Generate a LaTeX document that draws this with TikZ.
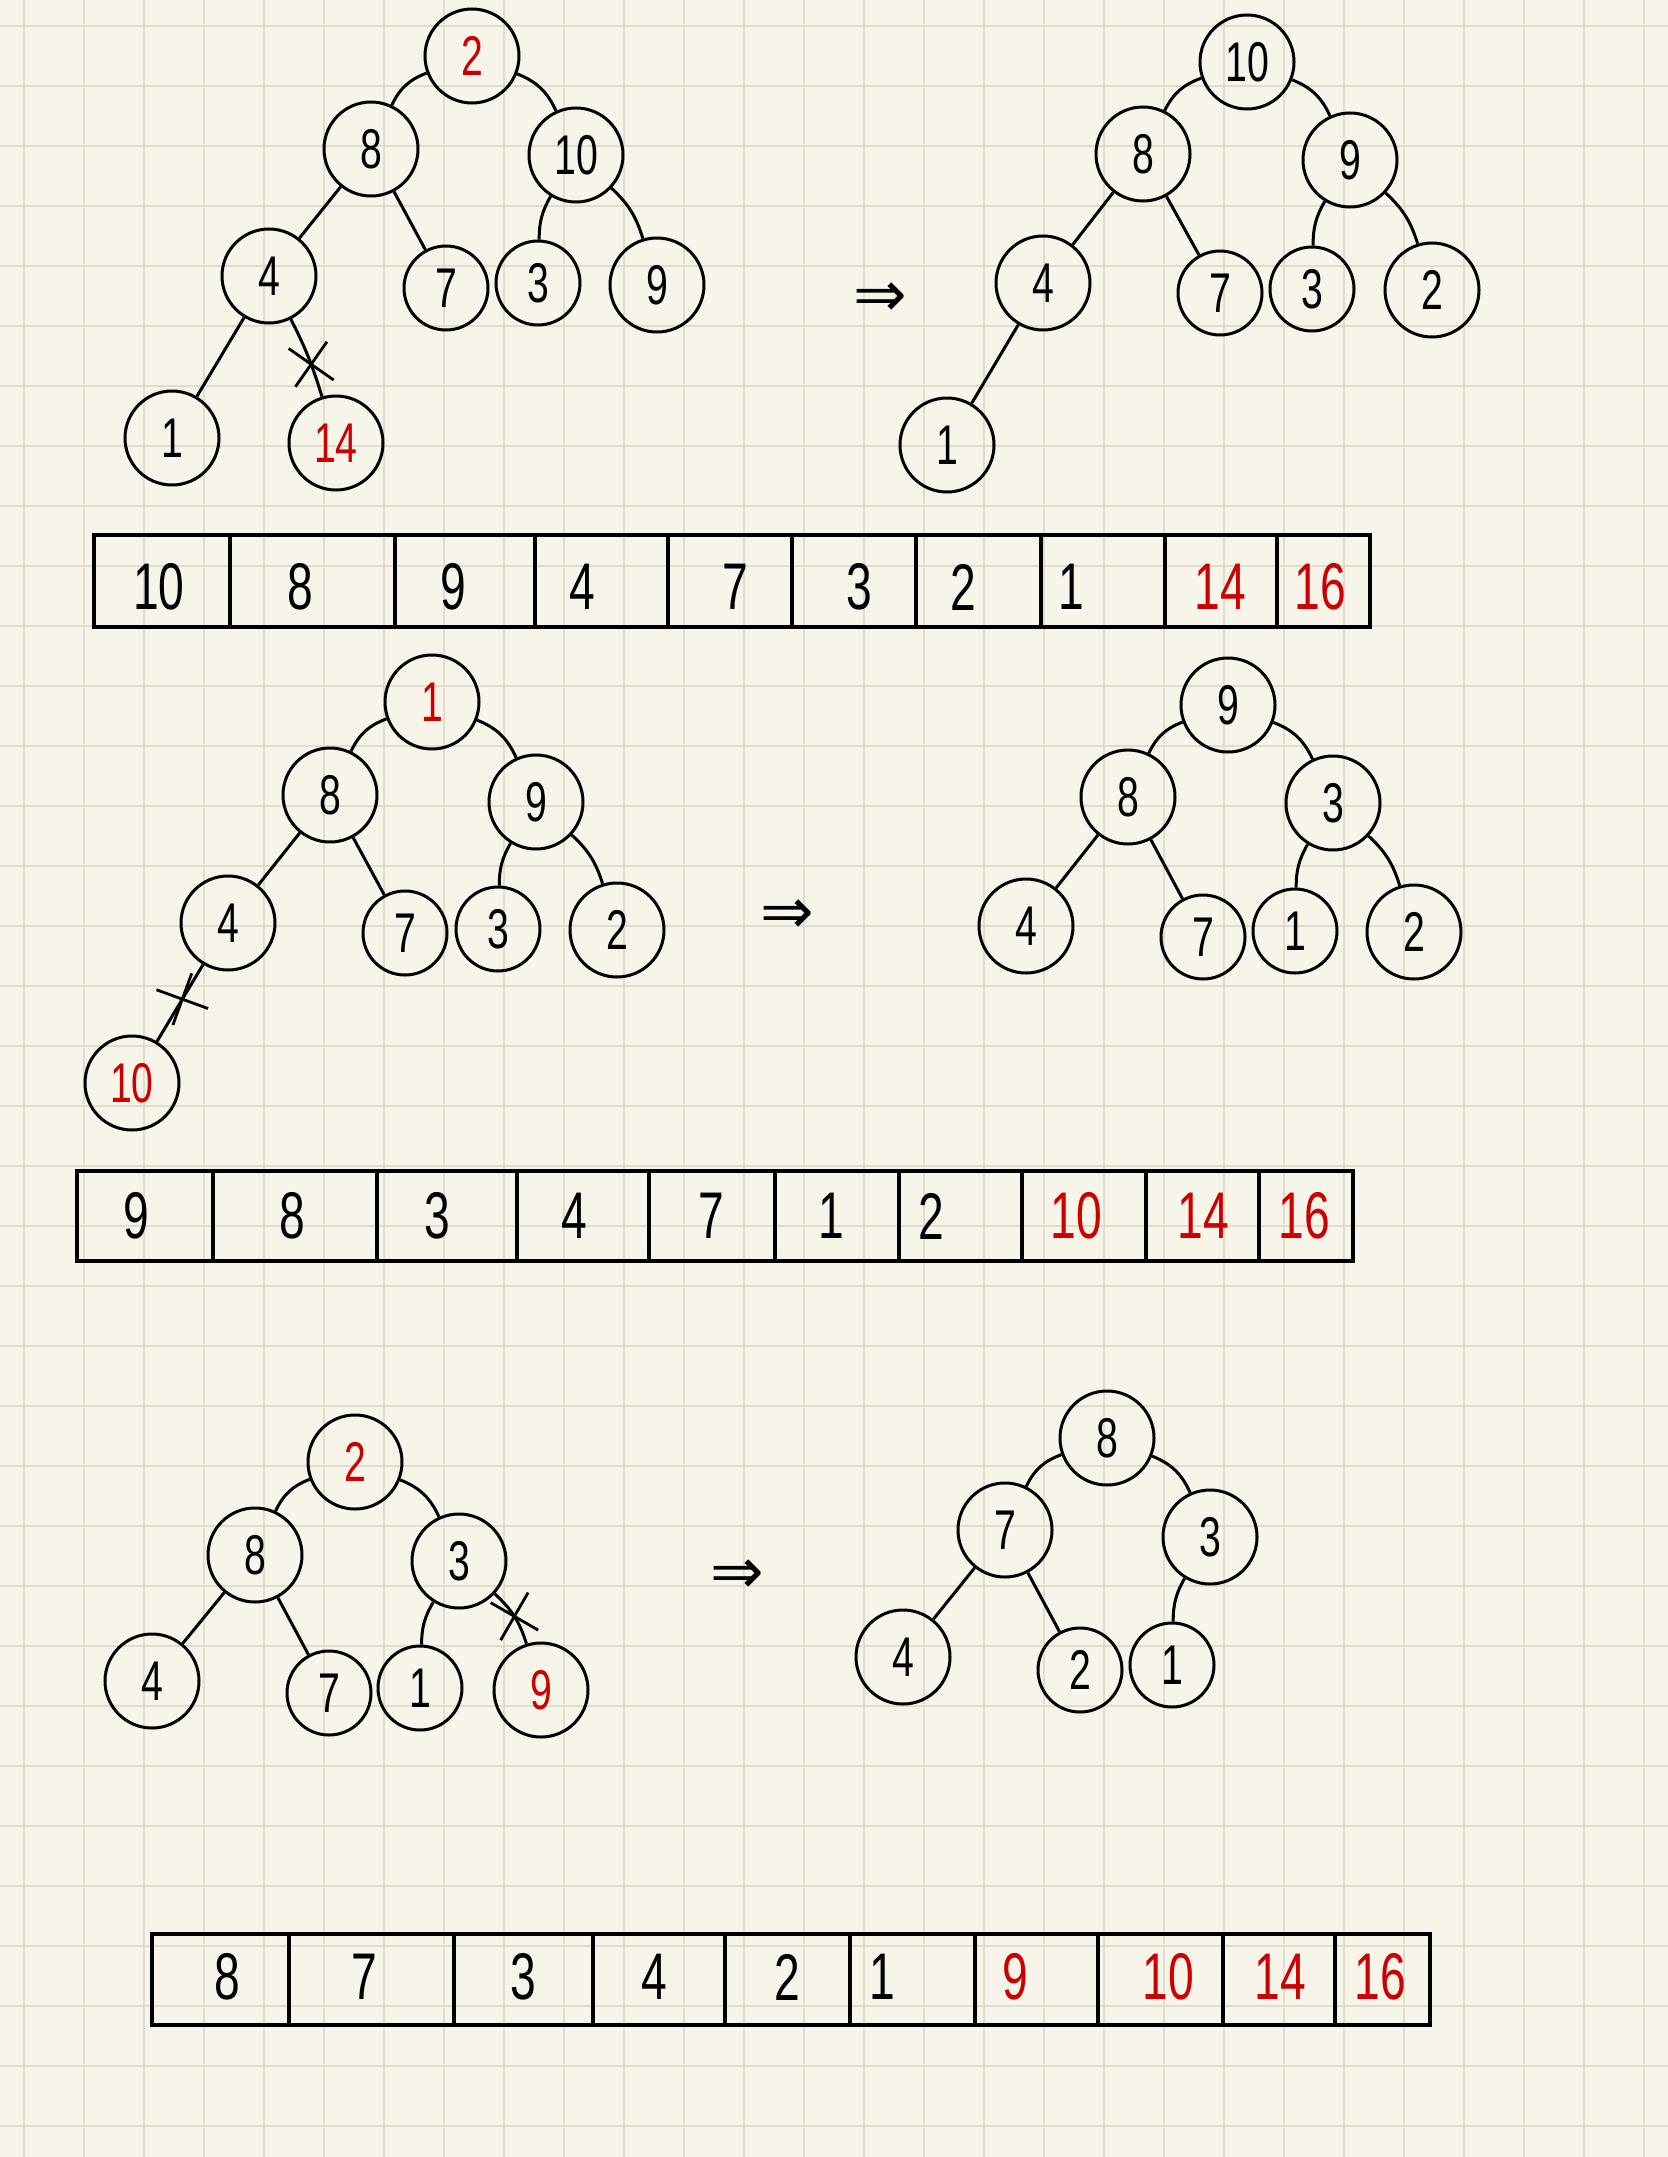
\documentclass[tikz,border=0pt]{standalone}
\usepackage{fontspec}
\setmainfont{Liberation Sans}
\newfontfamily\handfont[FakeStretch=0.7]{Liberation Sans}
\newfontfamily\symfont{DejaVu Sans}
\usetikzlibrary{shapes.misc}
\definecolor{paper}{RGB}{247,245,233}
\definecolor{gridcol}{RGB}{224,221,208}
\definecolor{inkred}{RGB}{204,0,0}
\tikzset{
  hnode/.style={circle, draw, line width=1.5pt, minimum size=47pt, inner sep=0pt, font=\handfont\fontsize{28}{28}\selectfont},
  tight/.style={minimum size=42pt},
  redval/.style={text=inkred},
  link/.style={line width=1.5pt},
  cutmark/.style={cross out, draw, line width=1.4pt, minimum size=18pt, inner sep=0pt},
  arrbox/.style={line width=1.7pt},
  arrval/.style={font=\handfont\fontsize{33}{33}\selectfont, inner sep=0pt},
  gives/.style={font=\symfont\fontsize{32}{32}\selectfont, inner sep=0pt},
}
\begin{document}
\begin{tikzpicture}[x=0.5pt,y=0.5pt,yscale=-1,xscale=1]
    \useasboundingbox (0,0) rectangle (1668,2157);
    \fill[paper] (0,0) rectangle (1668,2157);
    \foreach \gx in {24,84,...,1668} \draw[gridcol, line width=1pt] (\gx,0) -- (\gx,2157);
    \foreach \gy in {26,86,...,2157} \draw[gridcol, line width=1pt] (0,\gy) -- (1668,\gy);
    % first heap
    \node[hnode, redval] (t1n2) at (472,56) {2};
    \node[hnode] (t1n8) at (371,149) {8};
    \node[hnode] (t1n10) at (576,155) {10};
    \node[hnode] (t1n4) at (269,276) {4};
    \node[hnode, tight] (t1n7) at (446,288) {7};
    \node[hnode, tight] (t1n3) at (538,283) {3};
    \node[hnode] (t1n9) at (657,285) {9};
    \node[hnode] (t1n1) at (172,438) {1};
    \node[hnode, redval] (t1n14) at (336,443) {14};
    \draw[link] (t1n2) to[bend left=22] (t1n8);
    \draw[link] (t1n2) to[bend right=22] (t1n10);
    \draw[link] (t1n8) -- (t1n4);
    \draw[link] (t1n8) -- (t1n7);
    \draw[link] (t1n10) to[bend left=15] (t1n3);
    \draw[link] (t1n10) to[bend right=15] (t1n9);
    \draw[link] (t1n4) -- (t1n1);
    \draw[link] (t1n4) to[bend right=5] node[cutmark, pos=0.6, rotate=10] (t1cut) {} (t1n14);
    \node[gives] (go1) at (880,300) {⇒};
    \node[hnode] (t2n10) at (1247,62) {10};
    \node[hnode] (t2n8) at (1143,154) {8};
    \node[hnode] (t2n9) at (1350,160) {9};
    \node[hnode] (t2n4) at (1043,283) {4};
    \node[hnode, tight] (t2n7) at (1220,293) {7};
    \node[hnode, tight] (t2n3) at (1312,289) {3};
    \node[hnode] (t2n2) at (1432,290) {2};
    \node[hnode] (t2n1) at (947,445) {1};
    \draw[link] (t2n10) to[bend left=22] (t2n8);
    \draw[link] (t2n10) to[bend right=22] (t2n9);
    \draw[link] (t2n8) -- (t2n4);
    \draw[link] (t2n8) -- (t2n7);
    \draw[link] (t2n9) to[bend left=15] (t2n3);
    \draw[link] (t2n9) to[bend right=15] (t2n2);
    \draw[link] (t2n4) -- (t2n1);
    % first array
    \draw[arrbox] (94,535) rectangle (1370,627);
    \foreach \dx in {230,395,535,668,792,916,1041,1165,1277} \draw[arrbox] (\dx,535) -- (\dx,627);
    \foreach \vx/\val/\vc [count=\i] in {159/10/black,300/8/black,453/9/black,582/4/black,735/7/black,859/3/black,963/2/black,1071/1/black,1220/14/inkred,1320/16/inkred}
        \node[arrval, text=\vc] (ra\i) at (\vx,587) {\val};
    % second heap
    \node[hnode, redval] (t3n1) at (432,702) {1};
    \node[hnode] (t3n8) at (330,795) {8};
    \node[hnode] (t3n9) at (536,802) {9};
    \node[hnode] (t3n4) at (228,923) {4};
    \node[hnode, tight] (t3n7) at (405,933) {7};
    \node[hnode, tight] (t3n3) at (498,929) {3};
    \node[hnode] (t3n2) at (617,930) {2};
    \node[hnode, redval] (t3n10) at (132,1083) {10};
    \draw[link] (t3n1) to[bend left=22] (t3n8);
    \draw[link] (t3n1) to[bend right=22] (t3n9);
    \draw[link] (t3n8) -- (t3n4);
    \draw[link] (t3n8) -- (t3n7);
    \draw[link] (t3n9) to[bend left=15] (t3n3);
    \draw[link] (t3n9) to[bend right=15] (t3n2);
    \draw[link] (t3n4) -- node[cutmark, pos=0.45, rotate=25] (t3cut) {} (t3n10);
    \node[gives] (go2) at (787,917) {⇒};
    \node[hnode] (t4n9) at (1228,705) {9};
    \node[hnode] (t4n8) at (1128,797) {8};
    \node[hnode] (t4n3) at (1333,803) {3};
    \node[hnode] (t4n4) at (1026,926) {4};
    \node[hnode, tight] (t4n7) at (1203,937) {7};
    \node[hnode, tight] (t4n1) at (1295,931) {1};
    \node[hnode] (t4n2) at (1414,932) {2};
    \draw[link] (t4n9) to[bend left=22] (t4n8);
    \draw[link] (t4n9) to[bend right=22] (t4n3);
    \draw[link] (t4n8) -- (t4n4);
    \draw[link] (t4n8) -- (t4n7);
    \draw[link] (t4n3) to[bend left=15] (t4n1);
    \draw[link] (t4n3) to[bend right=15] (t4n2);
    % second array
    \draw[arrbox] (77,1171) rectangle (1353,1261);
    \foreach \dx in {213,377,517,649,775,899,1022,1146,1259} \draw[arrbox] (\dx,1171) -- (\dx,1261);
    \foreach \vx/\val/\vc [count=\i] in {136/9/black,292/8/black,437/3/black,574/4/black,711/7/black,831/1/black,931/2/black,1076/10/inkred,1203/14/inkred,1304/16/inkred}
        \node[arrval, text=\vc] (rb\i) at (\vx,1216) {\val};
    % third heap
    \node[hnode, redval] (t5n2) at (355,1462) {2};
    \node[hnode] (t5n8) at (255,1555) {8};
    \node[hnode] (t5n3) at (459,1561) {3};
    \node[hnode] (t5n4) at (152,1681) {4};
    \node[hnode, tight] (t5n7) at (329,1693) {7};
    \node[hnode, tight] (t5n1) at (420,1688) {1};
    \node[hnode, redval] (t5n9) at (541,1690) {9};
    \draw[link] (t5n2) to[bend left=22] (t5n8);
    \draw[link] (t5n2) to[bend right=22] (t5n3);
    \draw[link] (t5n8) -- (t5n4);
    \draw[link] (t5n8) -- (t5n7);
    \draw[link] (t5n3) to[bend left=15] (t5n1);
    \draw[link] (t5n3) to[bend right=15] node[cutmark, pos=0.5, rotate=15] (t5cut) {} (t5n9);
    \node[gives] (go3) at (737,1577) {⇒};
    \node[hnode] (t6n8) at (1107,1438) {8};
    \node[hnode] (t6n7) at (1005,1530) {7};
    \node[hnode] (t6n3) at (1210,1537) {3};
    \node[hnode] (t6n4) at (903,1657) {4};
    \node[hnode, tight] (t6n2) at (1080,1670) {2};
    \node[hnode, tight] (t6n1) at (1172,1665) {1};
    \draw[link] (t6n8) to[bend left=22] (t6n7);
    \draw[link] (t6n8) to[bend right=22] (t6n3);
    \draw[link] (t6n7) -- (t6n4);
    \draw[link] (t6n7) -- (t6n2);
    \draw[link] (t6n3) to[bend left=15] (t6n1);
    % third array
    \draw[arrbox] (152,1934) rectangle (1430,2025);
    \foreach \dx in {289,454,593,725,850,975,1098,1223,1335} \draw[arrbox] (\dx,1934) -- (\dx,2025);
    \foreach \vx/\val/\vc [count=\i] in {227/8/black,364/7/black,523/3/black,654/4/black,787/2/black,882/1/black,1015/9/inkred,1168/10/inkred,1280/14/inkred,1380/16/inkred}
        \node[arrval, text=\vc] (rc\i) at (\vx,1977) {\val};
\end{tikzpicture}
\end{document}
